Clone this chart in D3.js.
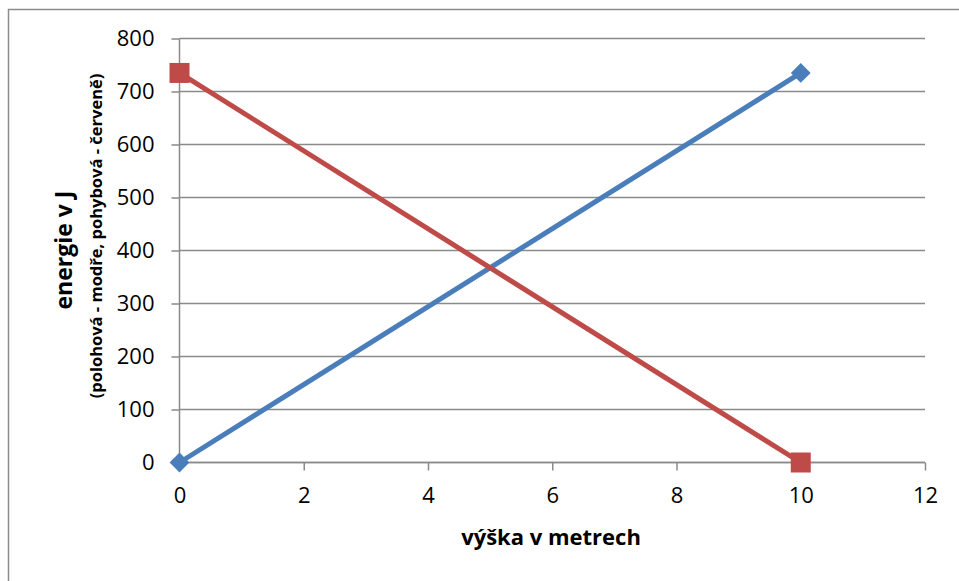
<!DOCTYPE html>
<html>
<head>
<meta charset="utf-8">
<script src="https://cdn.jsdelivr.net/npm/d3@7"></script>
<style>
  body { margin: 0; background: #fff; }
  text { font-family: "Open Sans", sans-serif; fill: #000; }
</style>
</head>
<body>
<svg id="chart" width="959" height="581"></svg>
<script>
"use strict";

// heights in metres and energies in J
let heights = [0, 10];
let potential = [0, 735];   // polohová - modře
let kinetic = [735, 0];     // pohybová - červeně
let xTicks = [0, 2, 4, 6, 8, 10, 12];
let yTicks = [0, 100, 200, 300, 400, 500, 600, 700, 800];

let svg = d3.select("#chart");

// chart frame
svg.append("rect")
  .attr("x", 8.5).attr("y", 9.5)
  .attr("width", 1000).attr("height", 1000)
  .attr("fill", "none")
  .attr("stroke", "#8c8c8c")
  .attr("stroke-width", 1.5);

let x = d3.scaleLinear().domain([0, 12]).range([179.5, 925]);
let y = d3.scaleLinear().domain([0, 800]).range([462.5, 38.5]);

// gridlines
svg.append("g")
  .selectAll("line")
  .data(yTicks)
  .enter()
  .append("line")
  .attr("x1", x(0)).attr("x2", x(12))
  .attr("y1", (d) => y(d)).attr("y2", (d) => y(d))
  .attr("stroke", "#8a8a8a")
  .attr("stroke-width", 1.5);

let xAxis = svg.append("g")
  .attr("transform", `translate(0,${y(0)})`)
  .call(d3.axisBottom(x).tickValues(xTicks).tickSize(8).tickPadding(17));

let yAxis = svg.append("g")
  .attr("transform", `translate(${x(0)},0)`)
  .call(d3.axisLeft(y).tickValues(yTicks).tickSize(8).tickPadding(17));

[xAxis, yAxis].forEach((ax) => {
  ax.selectAll("path, line").attr("stroke", "#8a8a8a").attr("stroke-width", 1.5);
  ax.select(".domain").attr("d", ax === xAxis
    ? `M${x(0)},0H${x(12)}`
    : `M0,${y(800)}V${y(0)}`);
  ax.selectAll("text")
    .style("font-family", "'Open Sans', sans-serif")
    .style("font-size", "22px")
    .attr("fill", "#000");
});

let line = d3.line()
  .x((d) => x(d[0]))
  .y((d) => y(d[1]));

let bluePts = heights.map((h, i) => [h, potential[i]]);
let redPts = heights.map((h, i) => [h, kinetic[i]]);

svg.append("path")
  .datum(bluePts)
  .attr("d", line)
  .attr("fill", "none")
  .attr("stroke", "#4a7ebb")
  .attr("stroke-width", 5);

svg.append("path")
  .datum(redPts)
  .attr("d", line)
  .attr("fill", "none")
  .attr("stroke", "#be4b48")
  .attr("stroke-width", 5);

// markers
svg.selectAll(".diamond")
  .data(bluePts)
  .enter()
  .append("path")
  .attr("class", "diamond")
  .attr("transform", (d) => `translate(${x(d[0])},${y(d[1])}) rotate(45)`)
  .attr("d", "M-7,-7H7V7H-7Z")
  .attr("fill", "#4a7ebb");

svg.selectAll(".square")
  .data(redPts)
  .enter()
  .append("rect")
  .attr("class", "square")
  .attr("x", (d) => x(d[0]) - 10)
  .attr("y", (d) => y(d[1]) - 10)
  .attr("width", 20).attr("height", 20)
  .attr("fill", "#be4b48");

// axis titles
svg.append("text")
  .attr("x", 551).attr("y", 545)
  .attr("text-anchor", "middle")
  .style("font-size", "22px")
  .style("font-weight", "bold")
  .text("výška v metrech");

svg.append("text")
  .attr("transform", "translate(72,250) rotate(-90)")
  .attr("text-anchor", "middle")
  .style("font-size", "23px")
  .style("font-weight", "bold")
  .text("energie v J");

svg.append("text")
  .attr("transform", "translate(102,236) rotate(-90)")
  .attr("text-anchor", "middle")
  .style("font-size", "16.5px")
  .style("font-weight", "bold")
  .text("(polohová - modře, pohybová - červeně)");
</script>
</body>
</html>
